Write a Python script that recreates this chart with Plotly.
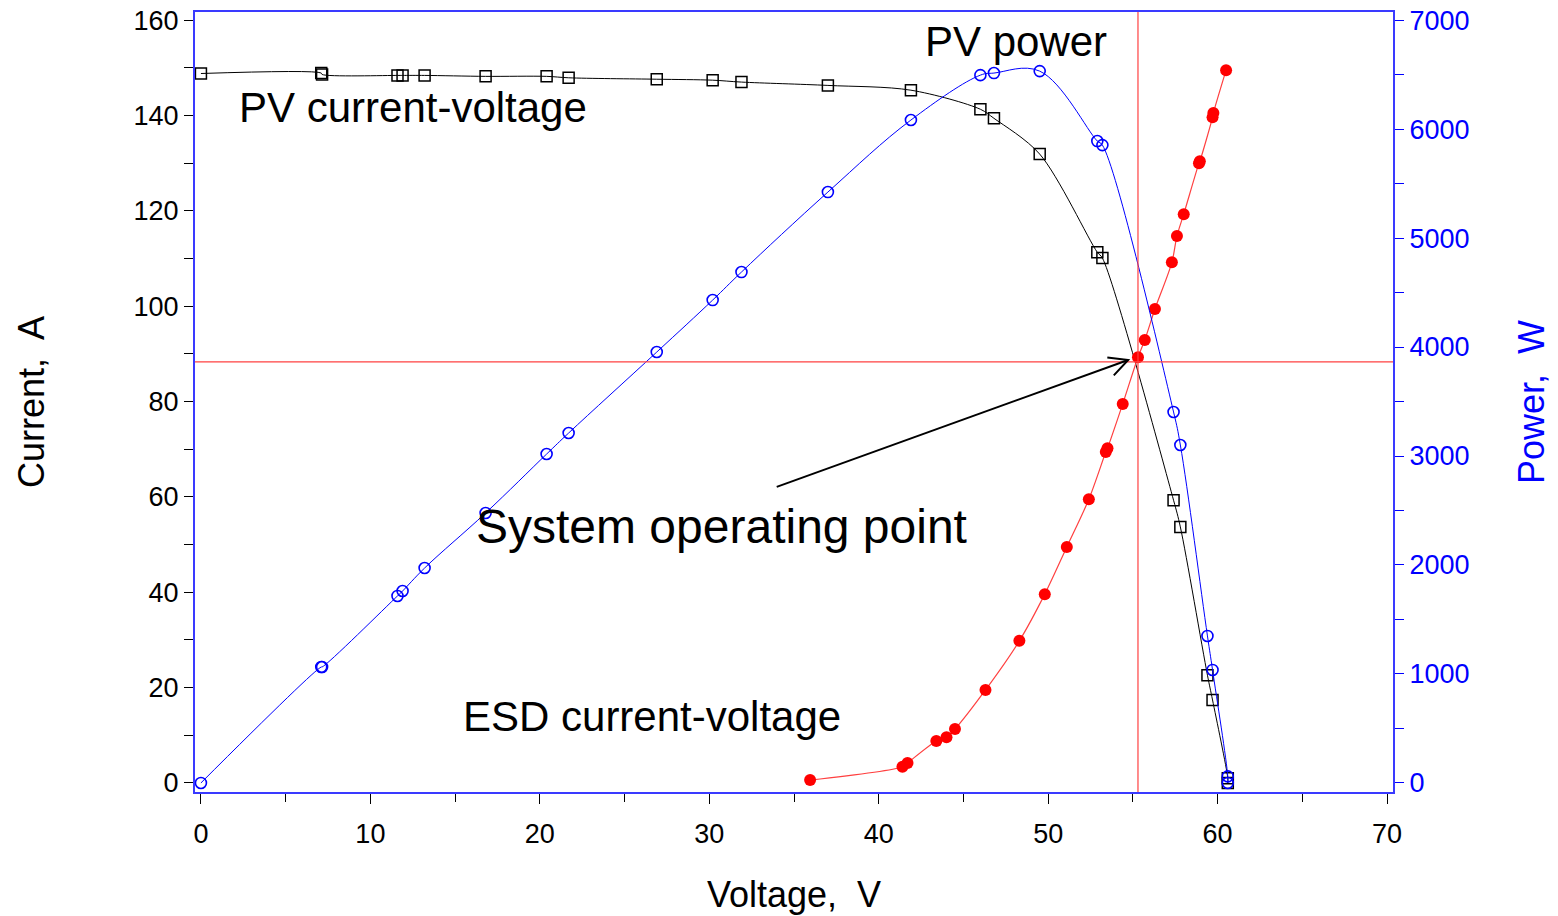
import math
import plotly.graph_objects as go

# ---------------- data ----------------
pv_voltage = [0.0, 7.1, 7.15, 11.6, 11.9, 13.2, 16.8, 20.4, 21.7, 26.9, 30.2, 31.9, 37.0,
              41.9, 46.0, 46.8, 49.5, 52.9, 53.2, 57.4, 57.8, 59.4, 59.7, 60.6, 60.6]
pv_current = [148.8, 148.9, 148.6, 148.4, 148.4, 148.4, 148.2, 148.2, 147.9, 147.6, 147.4, 147.0, 146.3,
              145.3, 141.3, 139.4, 131.9, 111.3, 110.1, 59.3, 53.7, 22.6, 17.4, 1.0, 0.0]
pv_power = [0, 1064, 1064, 1716, 1761, 1972, 2477, 3018, 3211, 3954, 4431, 4688, 5422,
            6083, 6495, 6514, 6532, 5890, 5853, 3404, 3101, 1349, 1037, 60, 0]

esd_voltage = [35.95, 41.4, 41.7, 43.4, 44.0, 44.5, 46.3, 48.3, 49.8, 51.1, 52.4, 53.4, 53.5,
               54.4, 55.3, 55.7, 56.3, 57.3, 57.6, 58.0, 58.9, 58.95, 59.7, 59.75, 60.5]
esd_current = [0.6, 3.4, 4.2, 8.8, 9.6, 11.3, 19.5, 29.8, 39.6, 49.5, 59.5, 69.4, 70.2,
               79.5, 89.3, 92.9, 99.4, 109.2, 114.7, 119.3, 130.0, 130.4, 139.6, 140.5, 149.5]

op_voltage = 55.3
op_current = 88.3

x_ticks = [0, 10, 20, 30, 40, 50, 60, 70]
y_ticks = [0, 20, 40, 60, 80, 100, 120, 140, 160]
y2_ticks = [0, 1000, 2000, 3000, 4000, 5000, 6000, 7000]

# ---------------- layout geometry ----------------
W, H = 1558, 916
ML, MR, MT, MB = 195, 165, 12, 124
x_range = [-0.35, 70.35]
y_range = [-1.9, 161.7]
p_scale = 7000 / 160
y2_range = [y_range[0] * p_scale, y_range[1] * p_scale]

FONT = "Liberation Sans, Arial, sans-serif"
BLUE = "#0000ff"
FRAME = "#3a3aff"
RED = "#ff0000"
REDLINE = "#ff4040"

fig = go.Figure()

fig.add_trace(go.Scatter(
    x=pv_voltage, y=pv_current, mode="lines+markers",
    line=dict(color="black", width=1, shape="spline", smoothing=0.9),
    marker=dict(symbol="square-open", size=11, color="black", line=dict(width=1.5)),
    yaxis="y", name="PV current-voltage"))

fig.add_trace(go.Scatter(
    x=pv_voltage, y=pv_power, mode="lines+markers",
    line=dict(color=BLUE, width=1, shape="spline", smoothing=1.1),
    marker=dict(symbol="circle-open", size=11, color=BLUE, line=dict(width=1.6)),
    yaxis="y2", name="PV power"))

fig.add_trace(go.Scatter(
    x=esd_voltage, y=esd_current, mode="lines+markers",
    line=dict(color=REDLINE, width=1.2, shape="spline", smoothing=0.9),
    marker=dict(symbol="circle", size=12, color=RED),
    yaxis="y", name="ESD current-voltage"))

# operating point cross-hair lines
fig.add_shape(type="line", xref="x", yref="paper", x0=op_voltage, x1=op_voltage, y0=0, y1=1,
              line=dict(color=REDLINE, width=1.2))
fig.add_shape(type="line", xref="paper", yref="y", x0=0, x1=1, y0=op_current, y1=op_current,
              line=dict(color=REDLINE, width=1.2))

# arrow (open V head)
pw = W - ML - MR
ph = H - MT - MB
sx = pw / (x_range[1] - x_range[0])
sy = ph / (y_range[1] - y_range[0])
tail = (33.98, 62.1)
head = (54.72, 88.7)
dx = (head[0] - tail[0]) * sx
dy = (head[1] - tail[1]) * sy
ang = math.atan2(dy, dx)
hl = 21
pts = []
for da in (math.radians(27), -math.radians(27)):
    a = ang + math.pi + da
    pts.append((head[0] + hl * math.cos(a) / sx, head[1] + hl * math.sin(a) / sy))
fig.add_shape(type="line", xref="x", yref="y", x0=tail[0], y0=tail[1], x1=head[0], y1=head[1],
              line=dict(color="black", width=2))
path = f"M {pts[0][0]},{pts[0][1]} L {head[0]},{head[1]} L {pts[1][0]},{pts[1][1]}"
fig.add_shape(type="path", xref="x", yref="y", path=path, line=dict(color="black", width=2))

# text labels
labels = [
    ("PV current-voltage", 12.49, 141.7, 42),
    ("PV power", 48.1, 155.5, 42),
    ("System operating point", 30.7, 53.7, 48),
    ("ESD current-voltage", 26.6, 14.0, 42),
]
for txt, lx, ly, fs in labels:
    fig.add_annotation(text=txt, x=lx, y=ly, xref="x", yref="y", showarrow=False,
                       xanchor="center", yanchor="middle",
                       font=dict(family=FONT, size=fs, color="black"))

fig.update_layout(
    width=W, height=H,
    margin=dict(l=ML, r=MR, t=MT, b=MB, autoexpand=False),
    paper_bgcolor="white", plot_bgcolor="white",
    showlegend=False,
    font=dict(family=FONT, color="black"),
    xaxis=dict(
        range=x_range, tickvals=x_ticks, ticktext=[str(v) for v in x_ticks],
        showgrid=False, zeroline=False,
        showline=True, linecolor=FRAME, linewidth=2, mirror=True,
        ticks="outside", ticklen=10, tickcolor="black", tickwidth=1.2,
        minor=dict(dtick=5, tick0=0, ticks="outside", ticklen=8, tickcolor="black", tickwidth=1.2),
        tickfont=dict(family=FONT, size=27, color="black"),
        ticklabelstandoff=7,
        title=dict(text="Voltage,  V", font=dict(family=FONT, size=36, color="black"), standoff=33),
    ),
    yaxis=dict(
        range=y_range, tickvals=y_ticks, ticktext=[str(v) for v in y_ticks],
        showgrid=False, zeroline=False,
        showline=True, linecolor=FRAME, linewidth=2, mirror=False,
        ticks="outside", ticklen=9, tickcolor="black", tickwidth=1.2,
        minor=dict(dtick=10, tick0=0, ticks="outside", ticklen=9, tickcolor="black", tickwidth=1.2),
        tickfont=dict(family=FONT, size=27, color="black"),
        title=dict(text="Current,  A", font=dict(family=FONT, size=36, color="black"), standoff=78),
    ),
    yaxis2=dict(
        range=y2_range, tickvals=y2_ticks, ticktext=[str(v) for v in y2_ticks],
        overlaying="y", side="right",
        showgrid=False, zeroline=False,
        showline=True, linecolor=FRAME, linewidth=2,
        ticks="outside", ticklen=9, tickcolor=BLUE, tickwidth=1.2,
        minor=dict(dtick=500, tick0=0, ticks="outside", ticklen=9, tickcolor=BLUE, tickwidth=1.2),
        tickfont=dict(family=FONT, size=27, color=BLUE),
        title=dict(text="Power,  W", font=dict(family=FONT, size=36, color=BLUE), standoff=50),
    ),
)

fig.write_html("out.html")
